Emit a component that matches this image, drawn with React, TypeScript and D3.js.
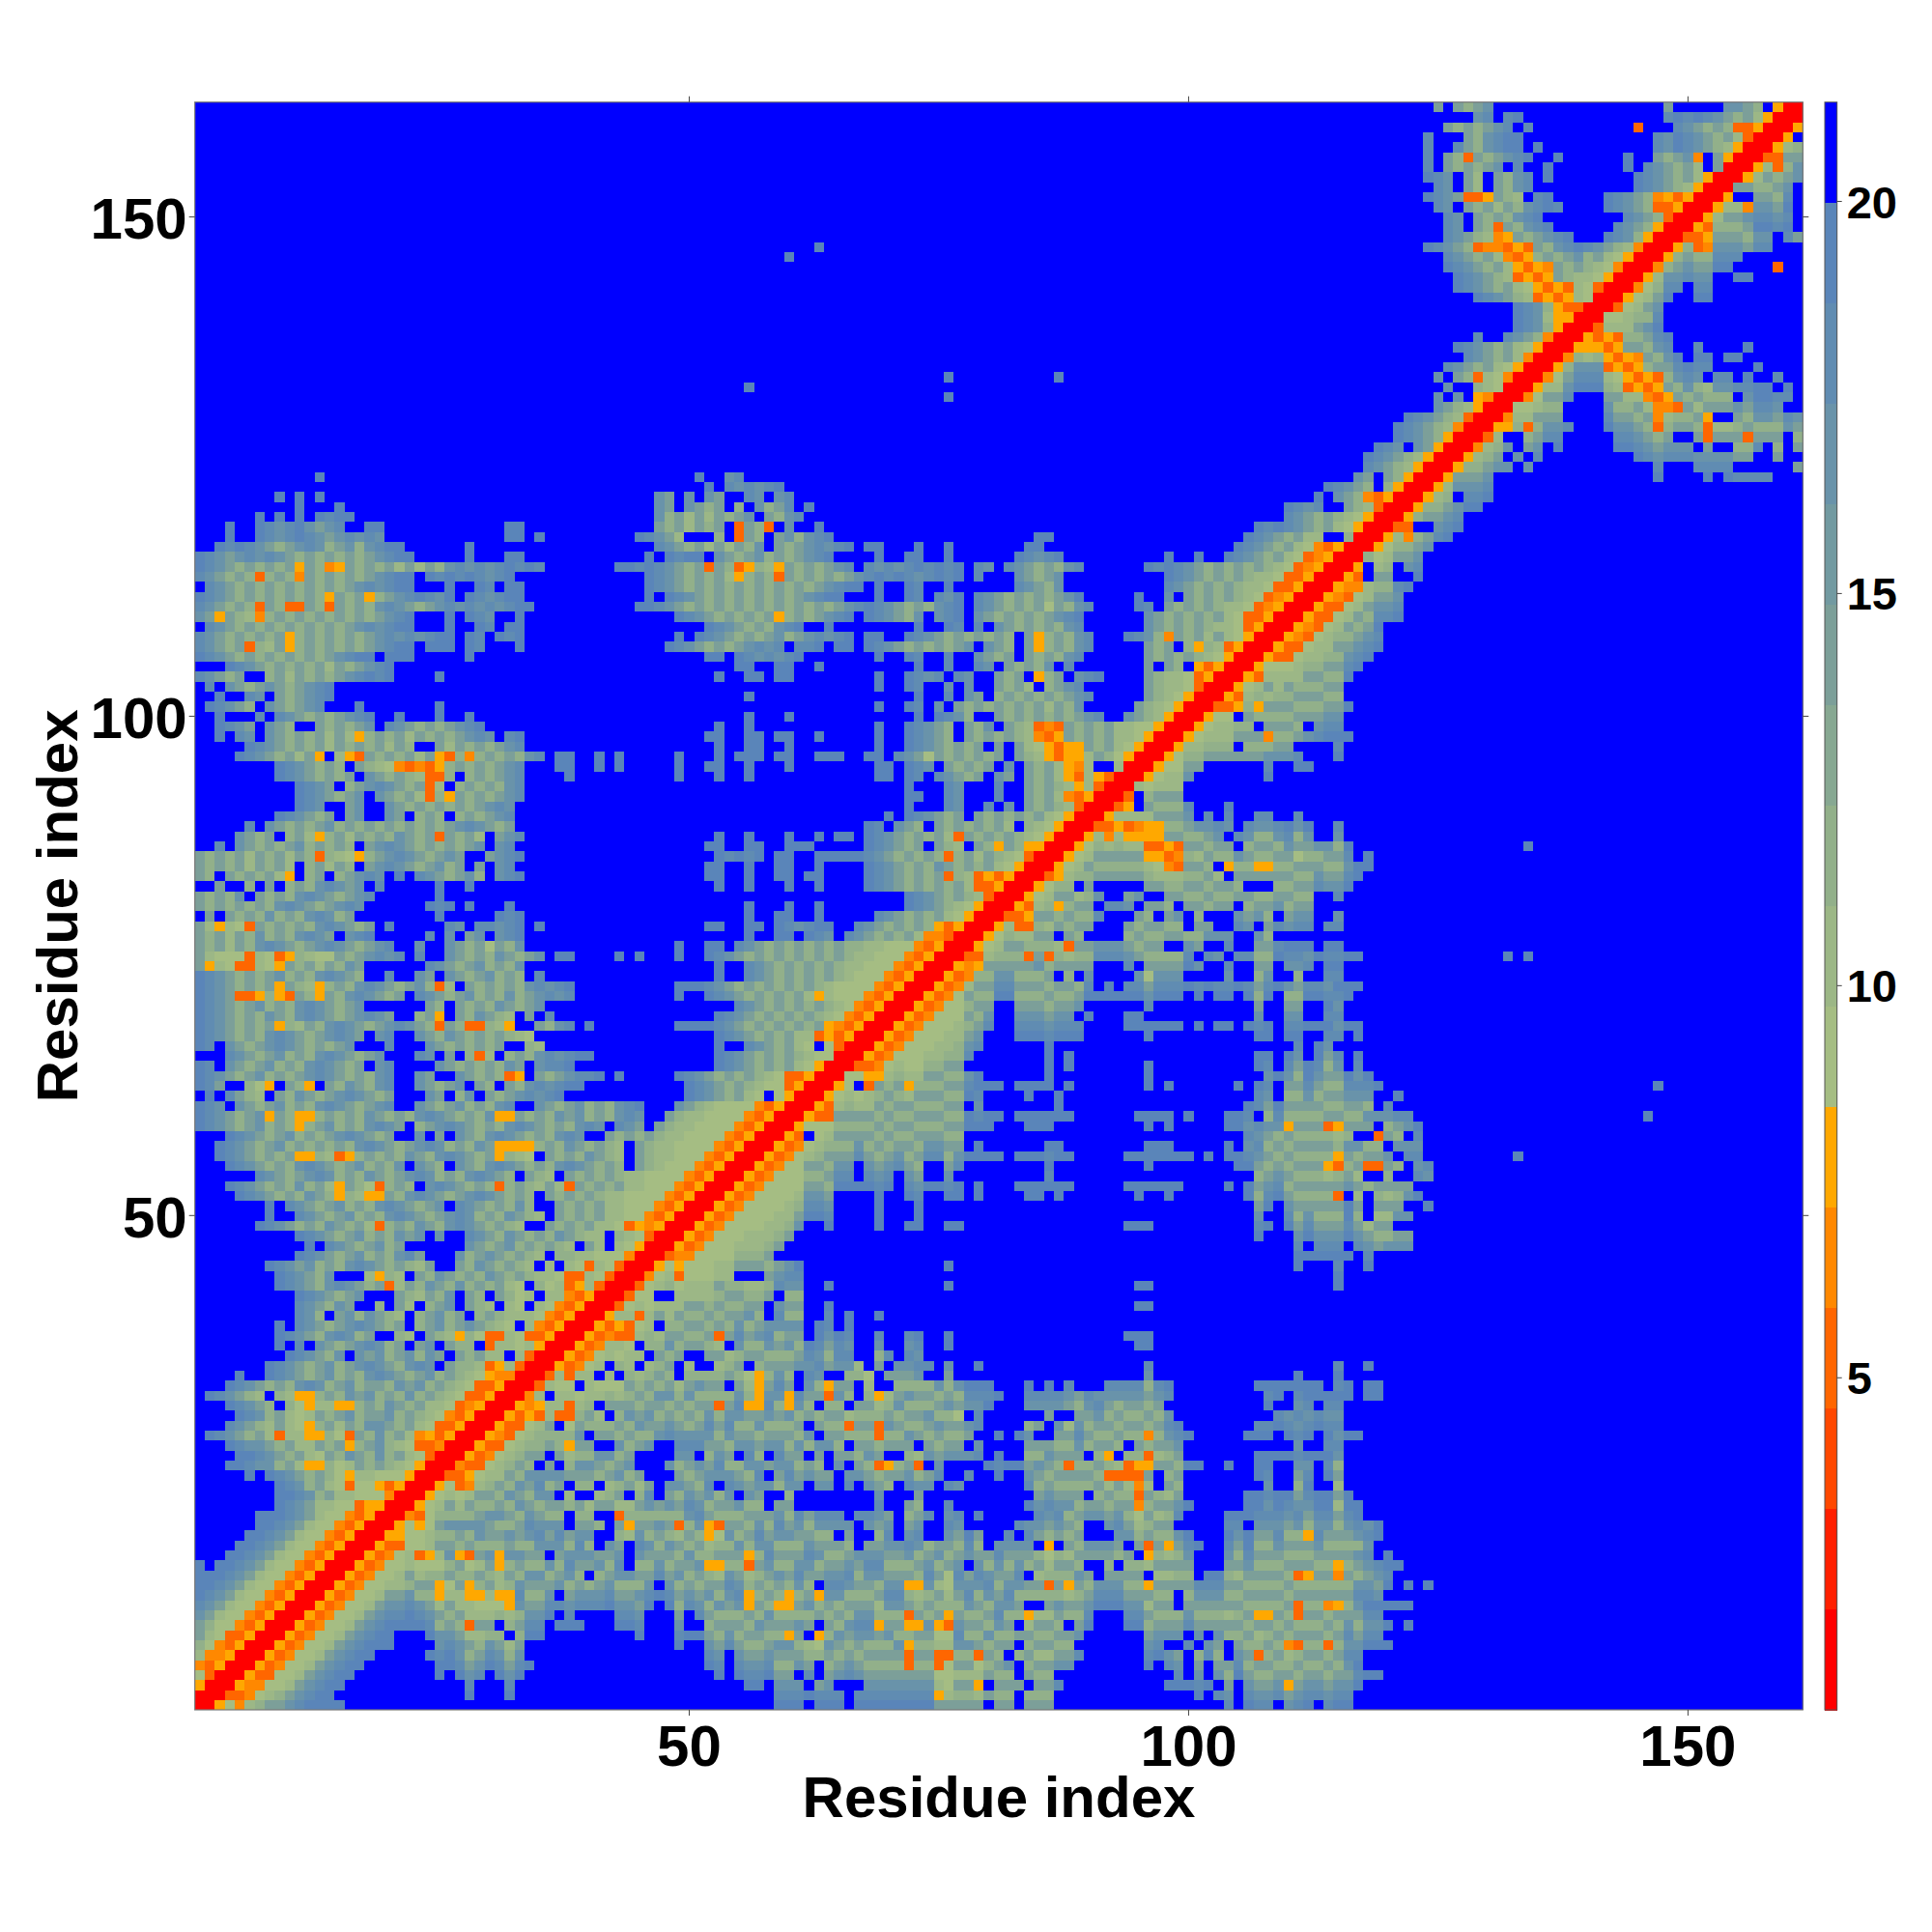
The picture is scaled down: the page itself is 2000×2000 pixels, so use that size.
import React, { useEffect, useRef } from "react"
import * as d3 from "d3";

// one string per residue row, bottom row first. "col:codes" runs, anything not listed is blue
const contactRows: string[] = [
"1:0",
"1:00",
"1:500",
"1:7300",
"1:43500",
"1:844500",
"1:9743500",
"1:a8633500",
"1:a97643500",
"1:ba87643500",
"1:cba87643500",
"1:dcba87643500",
"1:edcba87643500",
"1:eedcba87643500",
"1:e 3:edcba87643500",
"4:edcba87643500",
"5:edcba87643500",
"6:edcba87643500",
"7:edcba87643500",
"7:eedcba87643500",
"9:ecba887735500",
"9:edcb9a88776400",
"9:dcb9a8737753500",
"6:d 8:dcba9a97588776500",
"4:edcbb9a855978a9a987500",
"5:edcba9a87a9ba9b9a87300",
"4:dcbba9a88a9a59ab98733400",
"2:dcba9a838855973a9b9a8453500",
"4:cba98a8759a8a9bba9a8733500",
"5:dcb9a878a9ab9aab9a98743500",
"4:dcba9 10:97588559a9ba9a88734500",
"2:dcba98 9:98559a9bab9a9b9a98733500",
"4:dcba9a9bcb9ab9aa9bab9a98733500",
"5:d 8:dcba9ab9a9bcba9ab9a98754400",
"8:dcba9ab9abcba9bcb 26:a998358300",
"10:dcba9b 17:bab9ab9ba 27:a9a88 33:8300",
"9:d 11:c 13:ba9abcb9a 23:ab 26:a99 30:3 31:88785 36:00",
"9:dcba9bcb9a 21:98 24:a985 28:973387 34:33500",
"9:d 11:cba9abcba9a 23:9ab9aba987 34:843500",
"11:cb9 15:ab9ba98 23:9ab9a 29:9a98887 36:43500",
"11:cba9ba 19:9 21:a8 24:9ab 28:a98 32:87 35:8743500",
"11:dcba9ab 21:a98a9b 28:a9 31:a97 34:8 36:8843500",
"9:dcba9bcba9a3 21:8a9ba9b9a9a87 35:978358300",
"9:dcba9b 18:85 20:98 23:a9ba9a9ba9a98873387300",
"8:dcbab9a9bcba9a98a 27:a9ba9a98 36:8 38:87387300",
"11:dcba9ab9a9bca 27:b9aba9a98 37:9988776400",
"12:d 14:cba9ab9a 28:ba9ab9a9a98 40:a8 43:87500",
"11:dcba9ab9a9bab 25:b 28:cba9ba9a9ba988 43:987300",
"7:dcba9a9ba9a839a9ba9bcba9a98 36:a9a9a8873545 48:00",
"8:d 11:cba9ab9a9bcba9abcb9a9ba98 37:a9a9a887743500",
"8:d 10:cba9ab9a9bcba9ab 27:cba9a9b9 37:a9a9a8877643500",
"5:dcba9a9ba9598559 20:a9bcba9abcba9a9 36:a9a9a988776643500",
"4:dcba9a9b9a85a9739a9 24:bcba9a9 31:39a98a83 39:a9a9a8877643500",
"7:cba9abcb9a9ba9abcb9a9bcba9 34:a98 38:a9a9a988776643500",
"4:dcba9a9bcba9ab9a9b 23:ba9 27:ba9bcba9a9bcba9a9 45:a9877643500",
"3:dcba9a9a559835 17:9a9a9ba9bcba9a5987 36:a9a9ba98 45:a98877643500",
"3:dcba9ab9a9a9a9bcba9abcb9a9ba5555 35:9a9ba9a98 45:a988776643500",
"4:dcba9ab9a9abcba9a 23:b 25:a 27:ba9bcba9a9bcb 42:a9a9a988776643500",
"1:dcba9ab9a95 12:9ab9a9bcba 23:9abcba9a9bcba9a9bcb 43:cba 47:a988776643500",
"1:dcba9ab5a9 11:55 13:9a9a9ba9a9bcba9a9b 31:55 33:a9a9bab9a9bcb 48:a9887766 56:43500",
"1:dcb 5:ba9ab9a9bcba9abc 23:ba9ab9a9bc 35:ba9ab9a9bcd 49:ba98776643500",
"2:d 4:ca98 9:a9ba9abcba9a 24:ba 27:9b 30:a9abcbcd 50:dcba9a87 59:7500",
"1:dca 6:975 10:a95 14:a9ba9bc 23:ba9ab 29:a9 32:a9bcbcdd 50:dcba9a987735 62:00",
"1:dcba9ab9a9abcba9a9bc 23:ba 27:ba9a935 35:a9abccd 43:d 49:dcba9a9a98733500",
"1:dc 4:ba9ab9a9bcba9a 19:bc 25:ba9a9a9ba 35:bccd 53:dcba9a9a87500",
"4:cba9ab9a9bcba9ab 23:cb 26:a 28:938 32:9a9bcbcdd 53:dcba9a9a987700",
"1:dc 4:ba9abcba9a9ab 20:c 24:ba9a9a9a 34:98 53:d 56:cba9a87 64:7300",
"1:dcba9a9bcba9abcba 19:bc 23:ba9ba9a9a987 53:dcba9a9a88353500",
"1:dcba9a9a598a9bcba9abcba93a933 30:985 35:a9bc 40:d 49:ddddcba9a9a9a9a83 64:54 66:3500",
"1:dcba9a9ba9bcba9abcba 23:9a5 27:a9ba98 34:a 36:c 53:dcba9a9a9a98743500",
"1:dcba9ab9a9bcba9ab 24:a9 27:a9a9ba9ab 55:cba9a9a9a98743500",
"1:dcba335953a95a9bcba9a 23:cba9ab9a9b9abcbc 49:d 52:dcba9a9a9a858776 68:43500",
"1:dcba9a9a5a985 14:9a9bcba9ab938 28:a9a9a9bcbcd 49:dddcba9a9a9a9a987766 69:43500",
"1:dcba9a9ab9a9bcba9 20:c 23:ba 26:ba9ab9a9 35:c 53:d 56:cba9a9a9a98776 70:43500",
"1:a5873387 9:5a9a8a9ba 24:cba9ab9a9b 53:d 56:cba9a9a9a988776 71:43500",
"1:a87763873 10:59876a9abcbc 23:c 26:ba9a9ba9ab 37:dd 43:d 45:d 49:d 52:dcba9a9a9a9a9a988776 72:43500",
"1:a9a8a9bcba9abcba9abc 23:b 26:ba9a7a9b 49:d 52:dd 55:cba9a9a9a9a9988776 73:43500",
"1:a9a8a9b9a9bcba 16:bcd 24:c 26:b 28:ab 31:bcd 56:d 59:dd 62:dcb 66:cba9a9a8 74:44300",
"1:a8587 6:3a9a9a9bcba9a 20:d 26:cb 29:c 30:cbcd 35:d 52:dd 56:dd 59:dcbcdd 67:cba9a9a953500",
"2:a 4:a9a9b9a9bcb9a 25:d 31:dcd 56:d 59:dd 63:d 69:cba9a9a87500",
"1:a9a9a9a9bcba9abcb 24:dcd 28:d 32:d 56:d 60:d 63:d 72:dcba987500",
"1:a9a9b 7:a9a9bcba9abc 25:d 72:dcba9a98300",
"3:a 6:9 8:a 10:9a9bcbab 19:c 25:d 28:d 53:d 56:d 60:d 63:d 68:dcba9a9a9a833500",
"1:a9 4:a9a9a85 12:9a 15:9abcb 21:d 23:cba9ab9 31:bcd 52:dd 56:d 59:dd 62:dd 68:dcba9a9a398353500",
"1:a9a9a8a9a8 12:9a8a9 18:abcba9ab9a 29:a 31:bc 52:dd 56:d 59:dd 63:d 68:dcba9a9ba9a9a87500",
"1:a9a9a8a9a8a93987 17:59abcba9aba 30:abcd 53:dcdcd 59:dd 63:dddddcba9a9a939a8a987 84:300",
"3:c 5:ba9a9ab9a9a9 18:abcba9a9a9ab 31:bc 52:dd 56:dd 60:ddd 68:dcba9a 75:a98 79:a95a95500",
"5:ba9a 10:9a85 14:9a8a9a9ba9a3 26:a9a8 31:abc 53:d 56:d 60:d 63:d 65:dd 68:dcba9a9a83a9a9a987500",
"6:c 8:ba9a9ab9a9a9a9a9a9abcba9a 68:dc 71:ba9 75:a9a9a9a8 84:987500",
"9:dcba9a 16:ab 20:ba 23:9a9 27:9a9abc 70:d 72:dcba9a 79:a9a9a9a87500",
"11:dcb 16:ab 20:ba9a9a9a9abcb 72:d 76:cb 80:c 82:b 84:a9a98300",
"11:dcba9ab 19:ba9a8395 27:a9a9abc 72:dd 76:cb 81:c 84:a9a843500",
"11:dcba 16:9abcba9a38 27:9a9a9bc 72:d 76:cb 81:c 84:a9a98583 92:00",
"9:dcba9a9a 18:ba9a98339 28:9a9abc 38:d 49:d 53:d 56:d 69:dd 72:dc 75:cba9a 81:ba 84:a9a8538 91:5300",
"9:dcba9a9 17:a98743435 26:9a9a9abc 37:dd 41:d 43:d 49:d 52:dd 56:d 60:d 69:dd 72:dcb 76:a9a9a 82:b 84:a9a8548 93:800",
"5:dcba9a8a5 15:853a9a9a8a 25:539 28:4 29:9a9a9bc 37:dd 41:d 43:d 49:d 53:d 55:ddd 59:dd 63:ddd 68:dd 71:cba7a9a9a9a 83:a985 87:355 90:8a97500",
"6:dcba9a9a8a9a9a8a9 25:a8a9a9abc 53:d 56:dd 60:d 69:d 72:dcba9a9a 81:a 83:a875355 90:a9a87500",
"3:d 5:cb 8:ba9a9a8a85 18:9a9a8a9a9abcb 32:cd 52:dd 56:dd 59:dd 63:d 69:d 72:dcba9 78:a9a9a98435 88:a9a9a887500",
"3:dcba 8:ba9 13:a9a9ab 20:cba9a9abcd 53:d 56:d 69:d 72:dcba9 78:a9b 82:a98343 88:a9a9a8877500",
"3:d 7:c 9:cba9a9abcd 21:d 25:d 28:d 56:d 60:d 73:d 75:dcb9 81:a9a9a9a9abc 94:ba98500",
"2:dcba9 8:ba9abc 17:d 25:d 69:d 72:dc 75:b 77:a9a9a9a9a8a9b 95:a987500",
"3:d 6:cb 9:a9abcd 56:d 73:d 76:c 78:ba 81:9a9a9a9abc 96:a987500",
"2:c 4:ba9a 8:ba9abcd 69:d 72:dc 76:b 78:b 81:a9a8 86:9abc 96:a9887300",
"1:cba9a 8:9a8a9a9abcdcd 25:d 53:d 56:dd 59:dd 69:d 72:dcbc 77:cb 81:a9a 85:59a 89:bcd 96:a9887 101:3500",
"4:dcba9a9a9a8a9abcd 55:dd 59:dd 63:d 73:d 76:c 79:cb 82:a9a9b 88:c 96:a 98:a9 101:53500",
"1:dcba9a9a9a9a9abcdd 20:ddd 28:d 52:dd 55:dcbcbcd 69:d 72:dc 76:c 79:ba9a 84:a9a9bc 96:a9a9a987500",
"1:cba9a39 8:8a5 11:9a9a9a9abcdd 24:ddd 28:dc 33:d 48:dcba9a9abcbc 61:ccd 65:dd 68:dcba9a9a9ab 80:ba9 84:a5 86:9a9bc 96:a9a 100:95983500",
"1:cba9a9a9a5 11:9a9a9a9abcbcbcdd 28:dc 31:dcd 49:d 51:dcba9a9ab9abcbcd 68:dd 72:dcba9a9a9a9 84:a5 86:9a9bc 94:dcb94a9a8a87500",
"2:cba9a9a9a9a9a9abcbcdd 26:d 29:dc 32:dd 52:dcba9a9bcd 64:d 73:d 76:dc 79:c 81:ba9a9a9bc 96:ba9a9a9887 106:3500",
"1:ba5a984 8:9a9a9a9a9a9abcd 26:d 28:dcb 33:d 49:dcba9a9a9a5 60:9a9abcd 68:dcba9b 75:bcd 79:ba9a9a9abcd 96:ba9a9a9a8733500",
"1:cba9a93a9 10:33a93 15:a9a9bcba9abcbcbcbcdd 45:ddcba9a9a9a9a9a9a9a9abcbd 68:dcba9a9bcd 79:cba9a9a7a9bc 95:dc 98:a9a9a988734500",
"1:dcba9a9a9a9a95a9a5 19:9abcdcbd 28:dcbcdd 46:d 48:dcba9a9a9a9a9abcdd 69:d 72:dc 75:cbd 79:cba9a9a9abd 95:d 98:b 100:a9a9a98734500",
"2:cba9a9a9a9a9a9abcbcdd 26:d 29:dc 32:dd 46:dcba9a9a9a9a9a9a9abcdd 69:d 72:dc 76:d 83:cba9b 98:cba9a9a988733500",
"1:cba9a93 8:9a94a9a9a9abcdd 24:dcdcdcbcd 46:dcba9a9a85 56:9a93 60:a9a9a9abcdcdcbcdcd 79:c 83:ba9ab 98:dcba9a9a988733500",
"1:dcba9a9a9a5a945a9a9a8a8a9bcbcbcdcdc 43:ddcdcba9a3a93598 59:5a9a9abc 68:cbcbcdcdcd 79:cb 82:cba9a9bc 96:dcdcba9a9a9a98734500",
"1:dcbabcbcba9a9a9a9abcdd 28:d 32:dd 46:d 48:dcdd 53:ba9ab9a9abcd 69:d 72:dd 76:d 83:dcbcd 98:d 101:d 104:dcba9a8734500",
"3:dcdcba9abcb9ab9bcdd 28:d 47:cba9a8a8a9b 59:a9abcbcd 68:dd 73:d 76:d 84:dd 105:dcba9a8743500",
"4:d 7:dcbcdcbabcbcb 32:dd 35:d 45:dcba8 53:9 55:3a9 59:ab9bcd 85:dd 106:dcba9a88 116:900",
"4:d 7:dcbcdbabc 18:dd 32:dd 47:a9a8a9a 55:3a93 60:b 63:d 107:dcdcba9a87500",
"7:d 9:d 11:d 13:dcdd 47:b9a8a8a9ab 58:a9bc 110:cba9a987500",
"11:d 15:d 47:ba 50:ba9a 55:9 57:b9ac 62:d 110:dcbc 116:a98300",
"9:d 11:d 13:d 47:ba 50:b 52:ba 56:cb 59:bc 113:d 115:ba943500",
"52:d 54:cbcbcd 114:dcba9 120:9500",
"13:d 51:d 54:bc 117:ba 120:a95 123:00",
"118:cba98500",
"118:dcba98500",
"119:dcb 123:ba500",
"121:dcba9500",
"121:dcba98400",
"122:dcba98300",
"125:ba98500",
"76:d 125:b 127:b 129:5400",
"56:d 126:b 129:98700",
"76:d 87:d 125:b 127:a93874 133:00",
"126:cba9a87500",
"128:cba9a8400",
"127:dcba9a87500",
"129:c 132:cba9400",
"133:dcb9500",
"133:dcb85500",
"133:dcb953300",
"129:dcba98353587 141:00",
"127:dcba9a875353873 142:00",
"127:dcba98 133:3535a9887500",
"126:dcba9a85354a9a987400",
"60:d 126:cba9a8435 135:9a9ab9a87500",
"63:d 124:dcba9 129:344353a9bcdcba98400",
"126:cba9845 133:a9abcd 142:dcb9500",
"126:cb 129:a93 132:a9bcd 143:cba9500",
"126:cb 129:a9a9bcd 144:cba9300",
"125:cb 128:a9a8a9bcdc 142:dcba933500",
"124:dcba335 131:a98 135:cd 142:dcba94535 151:00",
"125:cb 128:a8 131:a9bc 145:dcba98500",
"124:dcb 128:a8 131:a9bc 136:d 145:dcba9a8500",
"124:c 126:a9a9ab 133:c 136:d 144:d 146:cba9a8 153:a00",
"124:c 126:a93a9abcd 137:d 144:d 147:a9ab4 153:a500",
"124:c 127:ca9bcdd 135:d 147:cbdcba98500",
"124:c 128:a9bcdd 147:cbdcba9a8300",
"126:a9a9abc 134:c 145:3 149:cba9a933500",
"129:bc 132:cd 148:cdcdcba9a8500",
"125:a 127:a9ab 148:a 154:bba9 159:500",
];

// what each code in contactRows stands for, as an index into levelColors
const levelOfCode: Record<string, number> = {
  "0": 0, "1": 1, "2": 2, "3": 3, "4": 4, "5": 5,
  "6": 6, "7": 6, "8": 7, "9": 8, a: 10, b: 12, c: 13, d: 14, e: 14,
};

const levelColors = ["#ff0000","#ff2000","#ff4800","#ff6600","#ff8800","#ffa800","#a5bd83","#9cb786","#92b08a","#87a892","#7c9f99","#729aa1","#6993aa","#608cb2","#5a85b9","#0000ff"];

const residues = d3.range(1, 162);
const axisTicks = [50, 100, 150];
const colorbarTicks = [5, 10, 15, 20];
const colorbarDomain = [0.76, 21.26];
const axisTitle = "Residue index";

const plotLeft = 201.7, plotRight = 1866.3, plotTop = 105.7, plotBottom = 1770;
const barLeft = 1889, barRight = 1901.7;
const fontFamily = "'Liberation Sans', Arial, sans-serif";

function readMatrix() {
  const matrix: number[][] = residues.map(() => residues.map(() => 15));
  contactRows.forEach((row, r) => {
    row.split(" ").forEach((run) => {
      const [start, codes] = run.split(":");
      codes.split("").forEach((ch, i) => {
        const c = +start - 1 + i;
        if (c > 160) return;
        matrix[r][c] = levelOfCode[ch];
        matrix[c][r] = levelOfCode[ch];
      });
    });
  });
  return matrix;
}

export default function App() {
  const svgRef = useRef<SVGSVGElement>(null);

  useEffect(() => {
    const svg = d3.select(svgRef.current);
    svg.selectAll("*").remove();

    const xScale = d3.scaleBand<number>().domain(residues).range([plotLeft, plotRight]);
    const yScale = d3.scaleBand<number>().domain(residues).range([plotBottom, plotTop]);
    const matrix = readMatrix();

    const cells = matrix.flatMap((row, r) => row.map((level, c) => ({ r: r + 1, c: c + 1, level })));
    svg.append("g")
      .attr("shape-rendering", "crispEdges")
      .selectAll("rect")
      .data(cells)
      .enter()
      .append("rect")
      .attr("x", (d: any) => xScale(d.c))
      .attr("y", (d: any) => yScale(d.r))
      .attr("width", xScale.bandwidth() + 0.4)
      .attr("height", yScale.bandwidth() + 0.4)
      .attr("fill", (d: any) => levelColors[d.level]);

    svg.append("rect")
      .attr("x", plotLeft).attr("y", plotTop)
      .attr("width", plotRight - plotLeft).attr("height", plotBottom - plotTop)
      .attr("fill", "none").attr("stroke", "#777").attr("stroke-width", 1.2);

    function styleAxis(g: any, size: number, nudge: number) {
      g.select(".domain").remove();
      g.selectAll(".tick line").attr("stroke", "#444").attr("stroke-width", 1);
      g.selectAll("text")
        .attr("transform", `translate(0,${nudge})`)
        .attr("font-family", fontFamily)
        .attr("font-weight", "bold")
        .attr("font-size", size)
        .attr("fill", "#000");
    }

    svg.append("g").attr("transform", `translate(0,${plotBottom})`)
      .call(d3.axisBottom(xScale).tickValues(axisTicks).tickSize(6).tickPadding(9) as any)
      .call(styleAxis, 60, 0);
    svg.append("g").attr("transform", `translate(${plotLeft},0)`)
      .call(d3.axisLeft(yScale).tickValues(axisTicks).tickSize(6).tickPadding(2) as any)
      .call(styleAxis, 60, 3);
    svg.append("g").attr("transform", `translate(0,${plotTop})`)
      .call(d3.axisTop(xScale).tickValues(axisTicks).tickSize(6).tickFormat(() => "") as any)
      .call(styleAxis, 10, 0);
    svg.append("g").attr("transform", `translate(${plotRight},0)`)
      .call(d3.axisRight(yScale).tickValues(axisTicks).tickSize(6).tickFormat(() => "") as any)
      .call(styleAxis, 10, 0);

    svg.append("text")
      .attr("x", (plotLeft + plotRight) / 2).attr("y", 1881)
      .attr("text-anchor", "middle")
      .attr("font-family", fontFamily).attr("font-weight", "bold").attr("font-size", 60)
      .text(axisTitle);
    svg.append("text")
      .attr("transform", `translate(80,${(plotTop + plotBottom) / 2}) rotate(-90)`)
      .attr("text-anchor", "middle")
      .attr("font-family", fontFamily).attr("font-weight", "bold").attr("font-size", 60)
      .text(axisTitle);

    // colour bar
    const barScale = d3.scaleLinear().domain(colorbarDomain).range([plotBottom, plotTop]);
    const step = (colorbarDomain[1] - colorbarDomain[0]) / levelColors.length;
    svg.append("g")
      .attr("shape-rendering", "crispEdges")
      .selectAll("rect")
      .data(levelColors)
      .enter()
      .append("rect")
      .attr("x", barLeft)
      .attr("width", barRight - barLeft)
      .attr("y", (d: string, i: number) => barScale(colorbarDomain[0] + (i + 1) * step))
      .attr("height", (plotBottom - plotTop) / levelColors.length + 0.5)
      .attr("fill", (d: string) => d);
    svg.append("rect")
      .attr("x", barLeft).attr("y", plotTop)
      .attr("width", barRight - barLeft).attr("height", plotBottom - plotTop)
      .attr("fill", "none").attr("stroke", "#555").attr("stroke-width", 1);
    svg.append("g").attr("transform", `translate(${barRight},0)`)
      .call(d3.axisRight(barScale).tickValues(colorbarTicks).tickSize(5).tickPadding(5) as any)
      .call(styleAxis, 47, 2);
  }, []);

  return (
    <svg ref={svgRef} width={2000} height={2000} style={{ position: "absolute", left: 0, top: 0, background: "#fff" }} />
  );
}
